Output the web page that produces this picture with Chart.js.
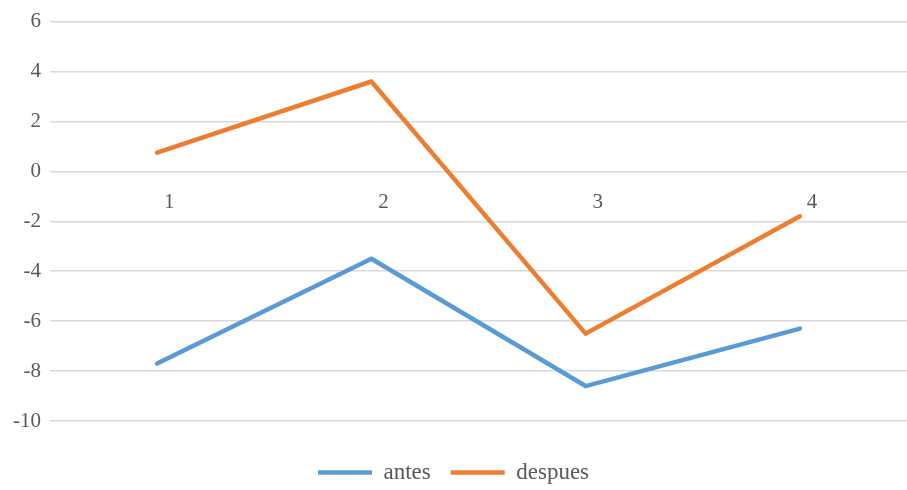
<!DOCTYPE html>
<html>
<head>
<meta charset="utf-8">
<script src="https://cdn.jsdelivr.net/npm/chart.js@4/dist/chart.umd.min.js"></script>
<style>
  html, body { margin: 0; padding: 0; background: #ffffff; }
  #wrap { width: 907px; height: 490px; }
</style>
</head>
<body>
<div id="wrap"><canvas id="c" width="907" height="490"></canvas></div>
<script>
const categories = ['1', '2', '3', '4'];
const antes = [-7.7, -3.5, -8.6, -6.3];
const despues = [0.75, 3.6, -6.5, -1.8];
const yTicks = [-10, -8, -6, -4, -2, 0, 2, 4, 6];

const SERIF = '"Liberation Serif", "Times New Roman", serif';
const TEXT = '#595959';

new Chart(document.getElementById('c'), {
  type: 'line',
  data: {
    labels: categories,
    datasets: [
      {
        label: 'antes',
        data: antes,
        borderColor: '#5B9BD5',
        backgroundColor: '#5B9BD5',
        borderWidth: 4.5,
        pointRadius: 0,
        pointStyle: 'line',
        tension: 0,
        borderCapStyle: 'round',
        borderJoinStyle: 'round'
      },
      {
        label: 'despues',
        data: despues,
        borderColor: '#ED7D31',
        backgroundColor: '#ED7D31',
        borderWidth: 4.5,
        pointRadius: 0,
        pointStyle: 'line',
        tension: 0,
        borderCapStyle: 'round',
        borderJoinStyle: 'round'
      }
    ]
  },
  options: {
    responsive: false,
    animation: false,
    layout: { padding: { top: 17, right: 0, left: 0, bottom: -4 } },
    plugins: {
      tooltip: { enabled: false },
      legend: {
        position: 'bottom',
        // an empty title only adds space between the plot and the legend row
        title: { display: true, text: ' ', font: { size: 2 }, padding: { top: 17.6, bottom: 0 } },
        labels: {
          color: TEXT,
          font: { family: SERIF, size: 23 },
          usePointStyle: true,
          pointStyleWidth: 54,
          padding: 20
        }
      }
    },
    scales: {
      x: {
        type: 'category',
        position: { y: 0 },
        offset: true,
        grid: { display: false },
        border: { display: false },
        ticks: { color: TEXT, font: { family: SERIF, size: 21 }, padding: 11, labelOffset: 12 }
      },
      y: {
        min: -10,
        max: 6,
        afterBuildTicks: (scale) => { scale.ticks = yTicks.map(v => ({ value: v })); },
        afterFit: (scale) => { scale.width = 50; },
        grid: { color: '#d9d9d9', lineWidth: 1.5, drawTicks: false },
        border: { display: false },
        ticks: { color: TEXT, font: { family: SERIF, size: 21 }, padding: 9 }
      }
    }
  }
});
</script>
</body>
</html>
